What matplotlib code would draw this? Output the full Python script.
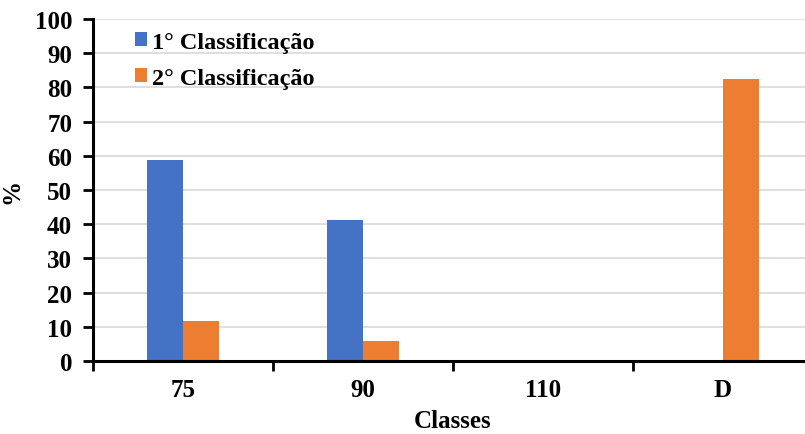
import numpy as np
import matplotlib.pyplot as plt

# data
classes = ["75", "90", "110", "D"]
first_class = [58.8, 41.2, 0, 0]
second_class = [11.8, 5.9, 0, 82.4]
series_labels = ["1° Classificação", "2° Classificação"]

plt.rcParams["font.family"] = ["Liberation Serif", "DejaVu Serif"]
plt.rcParams["font.weight"] = "bold"
plt.rcParams["axes.labelweight"] = "bold"
plt.rcParams["font.size"] = 18

fig = plt.figure(figsize=(8.05, 4.35), dpi=100)
# plot area runs slightly past the right edge, like the source
ax = fig.add_axes([93 / 805, 1 - 362 / 435, 720 / 805, 342 / 435])

x = np.arange(len(classes))
w = 0.2
ax.bar(x - w / 2, first_class, w, color="#4472c4", label=series_labels[0], zorder=3)
ax.bar(x + w / 2, second_class, w, color="#ed7d31", label=series_labels[1], zorder=3)

ax.set_xlim(-0.5, len(classes) - 0.5)
ax.set_ylim(0, 100)
ax.set_yticks(np.arange(0, 101, 10))
ax.set_xticks(x)
ax.set_xticklabels(classes)
ax.set_xticks(np.arange(-0.5, len(classes)), minor=True)
ax.tick_params(axis="x", which="major", length=0, pad=12)
ax.tick_params(axis="x", which="minor", length=7, width=2)
ax.tick_params(axis="y", length=7, width=2, pad=8)

ax.grid(axis="y", color="#d9d9d9", linewidth=1.2, zorder=0)
for s in ["top", "right"]:
    ax.spines[s].set_visible(False)
for s in ["left", "bottom"]:
    ax.spines[s].set_linewidth(2.2)
    ax.spines[s].set_zorder(4)

ax.set_ylabel("%", labelpad=8)
ax.set_xlabel("Classes", labelpad=6)

ax.legend(loc="upper left", bbox_to_anchor=(0.058, 0.963), frameon=False,
          fontsize=17.5, handlelength=0.5, handleheight=0.5, handletextpad=0.2,
          labelspacing=0.62, borderaxespad=0, borderpad=0)

fig.savefig("out.png", dpi=100)
